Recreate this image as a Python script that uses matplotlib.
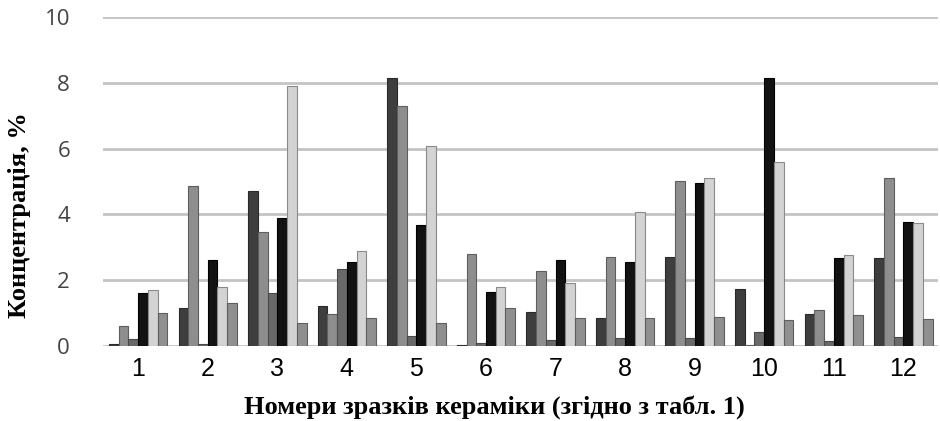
import numpy as np
import matplotlib.pyplot as plt

# номери зразків
zrazky = ["1", "2", "3", "4", "5", "6", "7", "8", "9", "10", "11", "12"]

# концентрації по шести серіях
seriya_1 = [0.05, 1.17, 4.70, 1.22, 8.15, 0.03, 1.02, 0.86, 2.70, 1.73, 0.97, 2.66]
seriya_2 = [0.60, 4.85, 3.45, 0.97, 7.30, 2.81, 2.27, 2.70, 5.00, 0.02, 1.09, 5.11]
seriya_3 = [0.20, 0.05, 1.62, 2.35, 0.30, 0.08, 0.18, 0.24, 0.24, 0.43, 0.15, 0.27]
seriya_4 = [1.60, 2.60, 3.90, 2.54, 3.69, 1.65, 2.60, 2.54, 4.95, 8.15, 2.66, 3.76]
seriya_5 = [1.70, 1.78, 7.90, 2.90, 6.07, 1.80, 1.92, 4.08, 5.10, 5.59, 2.76, 3.73]
seriya_6 = [1.00, 1.30, 0.70, 0.86, 0.71, 1.17, 0.86, 0.86, 0.88, 0.80, 0.94, 0.81]

serii = [seriya_1, seriya_2, seriya_3, seriya_4, seriya_5, seriya_6]
kolory = ["#3e3e3e", "#8e8e8e", "#696969", "#121212", "#d3d3d3", "#8f8f8f"]
kraji = ["#2a2a2a", "#5e5e5e", "#4a4a4a", "#000000", "#8a8a8a", "#5e5e5e"]

fig = plt.figure(figsize=(9.4, 4.21), dpi=100)
ax = fig.add_axes([0.11, 0.178, 0.888, 0.782])

x = np.arange(len(zrazky))
shyryna = 0.14
for i, (vals, c, e) in enumerate(zip(serii, kolory, kraji)):
    ax.bar(x + (i - 2.5) * shyryna, vals, width=shyryna, color=c,
           edgecolor=e, linewidth=0.8, zorder=3)

ax.set_ylim(0, 10)
ax.set_xlim(-0.5, len(zrazky) - 0.5)
ax.set_yticks([0, 2, 4, 6, 8, 10])
ax.yaxis.grid(True, color="#c4c4c4", linewidth=2, zorder=0)
ax.set_axisbelow(True)

for s in ax.spines.values():
    s.set_visible(False)
ax.tick_params(axis="both", length=0)
ax.tick_params(axis="y", pad=24, labelsize=16, labelcolor="#444444")
ax.tick_params(axis="x", pad=8, labelsize=18)
ax.set_yticklabels(["0", "2", "4", "6", "8", "10"], family="Open Sans")
ax.set_xticks(x)
ax.set_xticklabels(zrazky, family="Liberation Sans")

# підписи осей
fig.text(0.021, 0.49, "Концентрація, %", family="Liberation Serif", fontweight="bold",
         fontsize=19, rotation=90, ha="center", va="center")
fig.text(0.526, 0.033, "Номери зразків кераміки (згідно з табл. 1)", family="Liberation Serif",
         fontweight="bold", fontsize=19, ha="center", va="center")

fig.savefig("out.png", dpi=100)
plt.close()
